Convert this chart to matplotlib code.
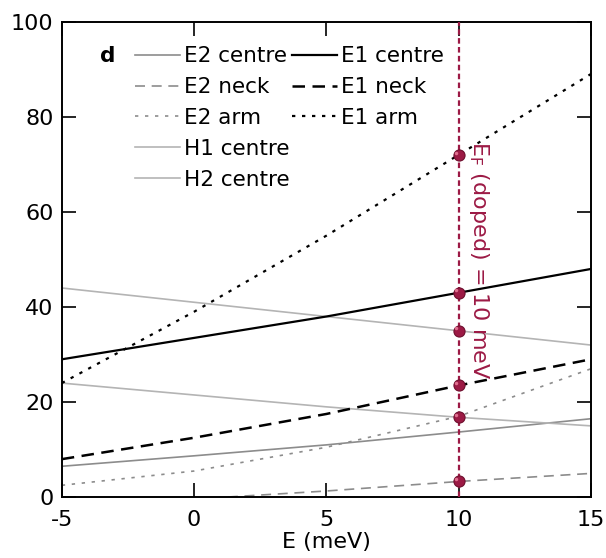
import matplotlib.pyplot as plt

E = [-5, 0, 5, 10, 15]

e1_centre = [29, 33.5, 38, 43, 48]
e1_neck = [8, 12.5, 17.5, 23.5, 29]
e1_arm = [24, 39, 55, 72, 89]
e2_centre = [6.5, 8.7, 11, 13.7, 16.5]
e2_neck = [-3, -0.4, 1.3, 3.3, 5]
e2_arm = [2.5, 5.5, 10.5, 17, 27]
h1_centre = [44, 41, 38, 35, 32]
h2_centre = [24, 21.5, 19, 16.8, 15]

E_F = 10
RED = '#9c1a45'
DARK_GREY = '#8c8c8c'
LIGHT_GREY = '#b4b4b4'

plt.rcParams['font.family'] = ['DejaVu Sans']
plt.rcParams['axes.unicode_minus'] = False
plt.rcParams['mathtext.default'] = 'regular'

fig = plt.figure(figsize=(6.06, 5.58), dpi=100)
ax = fig.add_axes([0.102, 0.109, 0.873, 0.852])

l_e2c, = ax.plot(E, e2_centre, color=DARK_GREY, lw=1.2)
l_e2n, = ax.plot(E, e2_neck, color=DARK_GREY, lw=1.2, ls=(0, (6, 4)))
l_e2a, = ax.plot(E, e2_arm, color=DARK_GREY, lw=1.2, ls=(0, (2, 4)))
l_h1, = ax.plot(E, h1_centre, color=LIGHT_GREY, lw=1.2)
l_h2, = ax.plot(E, h2_centre, color=LIGHT_GREY, lw=1.2)
l_e1c, = ax.plot(E, e1_centre, color='black', lw=1.6)
l_e1n, = ax.plot(E, e1_neck, color='black', lw=1.8, ls=(0, (5, 3)))
l_e1a, = ax.plot(E, e1_arm, color='black', lw=1.6, ls=(0, (1.5, 3)))

# Fermi level line and crossings
ax.axvline(E_F, color=RED, lw=1.6, ls=(0, (2.5, 1.5)), zorder=4)
i = E.index(E_F)
for s in [e1_arm, e1_centre, h1_centre, e1_neck, h2_centre, e2_neck]:
    ax.plot(E_F, s[i], 'o', ms=8, color=RED, mec='#6e0f2e', mew=0.8, zorder=5)
    ax.plot(E_F - 0.1, s[i] + 0.5, 'o', ms=2.5, color='#e07090', mew=0, zorder=6)

ax.text(E_F + 0.3, 75, r'E$_F$ (doped) = 10 meV', color=RED, fontsize=16,
        rotation=-90, ha='left', va='top')

ax.set_xlim(-5, 15)
ax.set_ylim(0, 100)
ax.set_xticks([-5, 0, 5, 10, 15])
ax.set_yticks([0, 20, 40, 60, 80, 100])
ax.tick_params(direction='in', length=10, width=1.2, labelsize=16,
               top=True, right=True)
ax.tick_params(axis='x', pad=9)
ax.tick_params(axis='y', pad=6)
for sp in ax.spines.values():
    sp.set_linewidth(1.4)
ax.set_xlabel('E (meV)', fontsize=16, labelpad=2)

leg_kw = dict(loc='upper left', frameon=False, fontsize=15.5, handlelength=2.1,
              handletextpad=0.2, labelspacing=0.5, borderpad=0, borderaxespad=0)
leg1 = ax.legend([l_e2c, l_e2n, l_e2a, l_h1, l_h2],
                 ['E2 centre', 'E2 neck', 'E2 arm', 'H1 centre', 'H2 centre'],
                 bbox_to_anchor=(0.138, 0.948), **leg_kw)
ax.add_artist(leg1)
ax.legend([l_e1c, l_e1n, l_e1a], ['E1 centre', 'E1 neck', 'E1 arm'],
          bbox_to_anchor=(0.435, 0.948), **leg_kw)

ax.text(0.072, 0.928, 'd', transform=ax.transAxes, fontsize=15.5,
        fontweight='bold', va='center')

fig.savefig('out.png', dpi=100)
